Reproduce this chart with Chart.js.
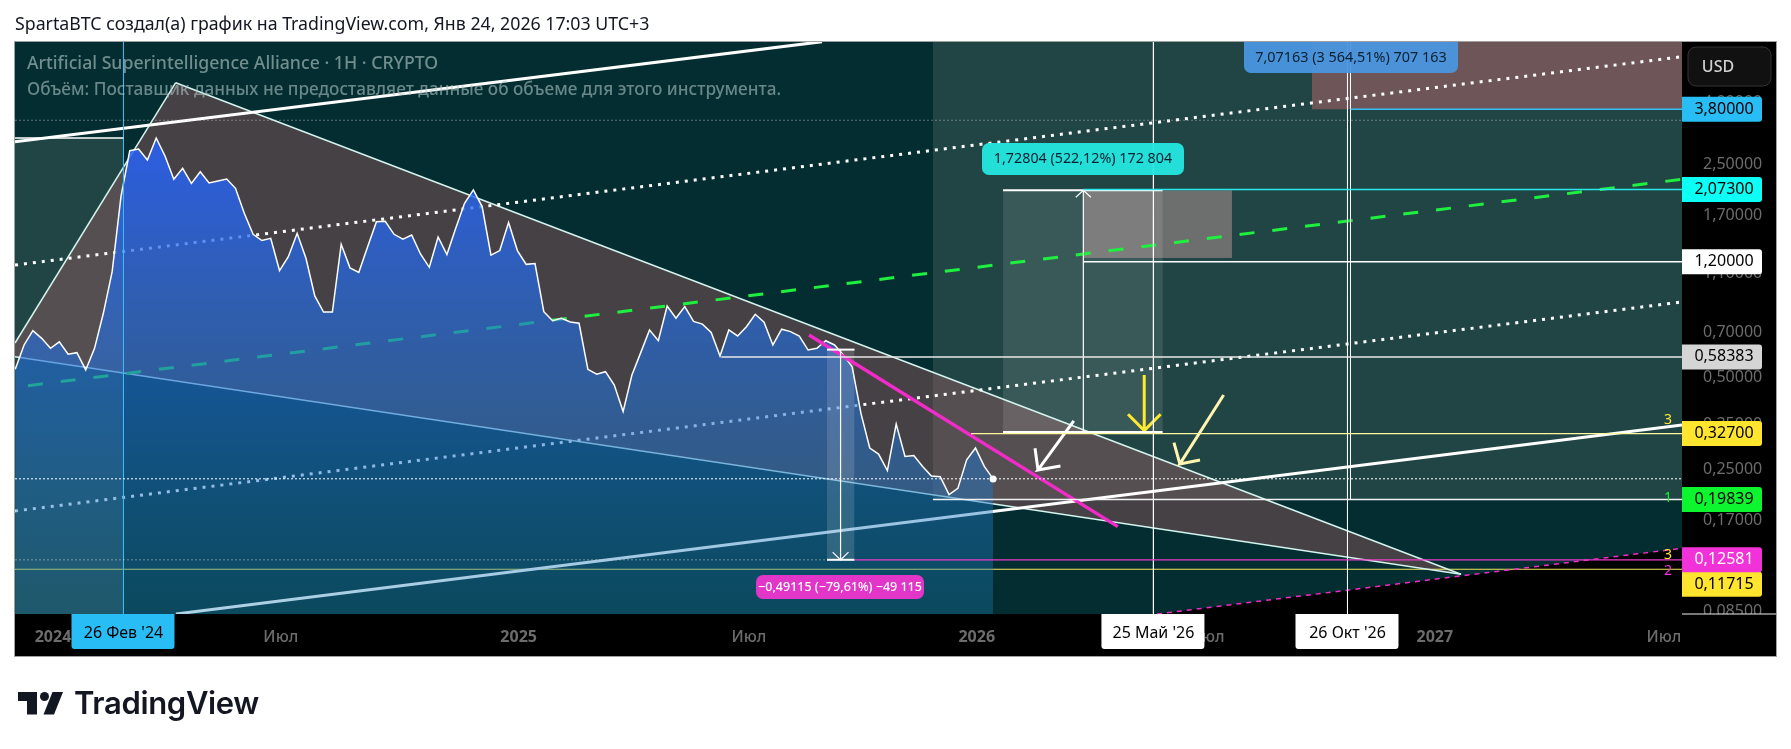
<!DOCTYPE html>
<html lang="ru">
<head>
<meta charset="utf-8">
<title>Artificial Superintelligence Alliance</title>
<script src="https://cdn.jsdelivr.net/npm/chart.js@4"></script>
<style>
  body { margin: 0; background: #fff; width: 1791px; height: 749px; overflow: hidden; position: relative; }
  canvas { display: block; }
  #head { position: absolute; left: 15px; top: 11px; font: 17.76px "Noto Sans", sans-serif; color: #131722; white-space: nowrap; }
  #logo { position: absolute; left: 18px; top: 692px; }
  #logoText { position: absolute; left: 74px; top: 684px; font: 600 31px Inter, sans-serif; letter-spacing: -0.35px; color: #131722; }
</style>
</head>
<body>
<canvas id="chart" width="1791" height="749"></canvas>
<div id="head">SpartaBTC создал(а) график на TradingView.com, Янв 24, 2026 17:03 UTC+3</div>
<svg id="logo" width="45" height="23" viewBox="0 0 45 23" fill="#131722">
  <path d="M0 0h19v22.5H9V9H0z"/><circle cx="26.5" cy="4.5" r="4.5"/><path d="M45 0 36 22.5H25.5L34.5 0z"/>
</svg>
<div id="logoText">TradingView</div>

<script>
// x axis is days since 1 Jan 2024, one price per week
const firstWeek = -30;
const weekStep = 7;
const weeklyPrices = [
  0.5315, 0.639, 0.712, 0.672, 0.623, 0.654, 0.596, 0.603, 0.529, 0.623, 0.812, 1.113, 1.962, 2.778,
  2.814, 2.59, 3.058, 2.669, 2.237, 2.432, 2.17, 2.37, 2.177, 2.21, 2.243, 2.09, 1.73, 1.476, 1.408,
  1.432, 1.122, 1.246, 1.487, 1.231, 0.926, 0.82, 0.82, 1.369, 1.145, 1.107, 1.344, 1.624, 1.629,
  1.476, 1.422, 1.468, 1.272, 1.15, 1.446, 1.266, 1.545, 1.866, 2.065, 1.82, 1.26, 1.305, 1.613,
  1.305, 1.176, 1.183, 0.822, 0.768, 0.782, 0.76, 0.753, 0.5315, 0.512, 0.522, 0.472, 0.386, 0.509,
  0.603, 0.716, 0.66, 0.858, 0.782, 0.854, 0.764, 0.748, 0.702, 0.588, 0.716, 0.684, 0.734, 0.806,
  0.759, 0.639, 0.72, 0.707, 0.684, 0.615, 0.623, 0.66, 0.639, 0.593, 0.542, 0.381, 0.293, 0.28,
  0.247, 0.351, 0.275, 0.277, 0.255, 0.237, 0.236, 0.206, 0.216, 0.268, 0.293, 0.255, 0.232
];

const xMin = -30.2, xMax = 1294.4, yMin = 0.0835, yMax = 6.322;
const xTickDays = [0, 181, 370, 553, 734, 917, 1098, 1280];
const xTickLabels = ['2024', 'Июл', '2025', 'Июл', '2026', 'Июл', '2027', 'Июл'];
const yTicks = [4, 2.5, 1.7, 1.1, 0.7, 0.5, 0.35, 0.25, 0.17, 0.12, 0.085];

// wedge
const wedgeDays = [-30.2, 97.5, 1118.8, -30.2];
const wedgePrices = [0.6487, 4.647, 0.1128, 0.5849];
// channel and its inner lines
const channelTopDays = [-30.2, 611], channelTopPrices = [2.974, 6.337];
const channelLowDays = [97.7, 1294.4], channelLowPrices = [0.0835, 0.3489];
const dottedUpDays = [-30.2, 1294.4], dottedUpPrices = [1.17, 5.657];
const dottedLowDays = [-30.2, 1294.4], dottedLowPrices = [0.182, 0.8846];
const midDashDays = [-19.9, 1294.4], midDashPrices = [0.4696, 2.238];
const pinkTrendDays = [600.7, 846.1], pinkTrendPrices = [0.6892, 0.1617];
const floorDays = [877.2, 1294.4, 1294.4], floorPrices = [0.0835, 0.1373, 0.0835];
// levels
const lastPrice = 0.2322, dottedHigh = 3.497, dottedLow = 0.1258;
const levelRed = 3.8, levelCyan = 2.073, levelWhite = 1.2, levelNeck = 0.58383;
const levelYellow = 0.327, levelGreen = 0.19839, levelPink = 0.12581, levelFloor = 0.11715;
const peakLevel = 3.058;
// dates
const dayFeb24 = 56, dayMay26 = 874.4, dayOct26 = 1028.6, dayOctBar = 1031;
// measures
const upStartDay = 754.9, upEndDay = 881.7, upMidDay = 818.7, upFrom = 0.33097, upTo = 2.05901, upBarb = 1.953;
const downStartDay = 615, downEndDay = 636.9, downMidDay = 625.8, downFrom = 0.61696, downTo = 0.12581, downBarb = 0.1334;
// arrows
const whiteArrowDays = [780.3, 782.7, 800.5, 782.7, 811.1], whiteArrowPrices = [0.2925, 0.2482, 0.2558, 0.2482, 0.3596];
const paleArrowDays = [890.7, 895.4, 911.4, 895.4, 930.2], paleArrowPrices = [0.3052, 0.2598, 0.2677, 0.2598, 0.4378];
const yellowArrowDays = [854.2, 867.1, 880.1, 867.1, 867.1], yellowArrowPrices = [0.3783, 0.3342, 0.3783, 0.3342, 0.5093];

// price tags: level, text, fill, text colour, shift down when tags collide
const yBadges = [
  [levelRed, '3,80000', '#29bdf5', '#000', 0],
  [levelCyan, '2,07300', '#0bfff4', '#000', 0],
  [levelWhite, '1,20000', '#ffffff', '#000', 0],
  [levelNeck, '0,58383', '#d5d5d5', '#000', 0],
  [levelYellow, '0,32700', '#ffe52e', '#000', 0],
  [levelGreen, '0,19839', '#0cf52e', '#000', 0],
  [levelFloor, '0,11715', '#ffe52e', '#000', 15],
  [levelPink, '0,12581', '#f032d8', '#fff', 0]
];
const xBadges = [
  [dayFeb24, "26 Фев '24", '#29bdf5'],
  [dayMay26, "25 Май '26", '#ffffff'],
  [dayOct26, "26 Окт '26", '#ffffff']
];

const FONT = '"Noto Sans", sans-serif';

function zip(days, prices) {
  return days.map((d, i) => ({ x: d, y: prices[i] }));
}
function path(days, prices, color, width, dash, order) {
  return {
    type: 'line', data: zip(days, prices), borderColor: color, borderWidth: width,
    borderDash: dash || [], pointRadius: 0, fill: false, order: order, borderCapStyle: 'butt'
  };
}
function level(from, to, price, color, width, dash, order) {
  return path([from, to], [price, price], color, width, dash, order);
}
function vertical(day, top, bottom, color, width, order) {
  return path([day, day], [top, bottom], color, width, [], order);
}

const UNDER = 10, AREA = 5, OVER = 1;

const datasets = [
  // under the price area
  path(channelTopDays, channelTopPrices, '#ffffff', 3, [], UNDER),
  path(channelLowDays, channelLowPrices, '#ffffff', 3, [], UNDER),
  path(dottedUpDays, dottedUpPrices, '#ffffff', 3, [3, 6], UNDER),
  path(dottedLowDays, dottedLowPrices, '#ffffff', 3, [3, 6], UNDER),
  path(midDashDays, midDashPrices, '#1ff03f', 3, [15, 18], UNDER),
  path(wedgeDays.slice(0, 2), wedgePrices.slice(0, 2), '#d4f4ee', 1.5, [], UNDER),
  path(wedgeDays.slice(1, 3), wedgePrices.slice(1, 3), '#d4f4ee', 1.5, [], UNDER),
  path(wedgeDays.slice(2, 4), wedgePrices.slice(2, 4), '#d4f4ee', 1.5, [], UNDER),
  level(xMin, xMax, levelFloor, '#f5e85a', 1.2, [], UNDER),
  // price
  {
    type: 'line',
    data: weeklyPrices.map((p, i) => ({ x: firstWeek + i * weekStep, y: p })),
    borderColor: '#ffffff', borderWidth: 1.5, fill: 'start', order: AREA,
    pointRadius: c => (c.dataIndex === weeklyPrices.length - 1 ? 3.5 : 0),
    pointBackgroundColor: '#ffffff', pointBorderWidth: 0,
    backgroundColor: c => {
      const a = c.chart.chartArea;
      if (!a) return 'transparent';
      const g = c.chart.ctx.createLinearGradient(0, a.top + 90, 0, a.bottom);
      g.addColorStop(0, 'rgba(41,98,255,0.85)');
      g.addColorStop(1, 'rgba(27,125,180,0.35)');
      return g;
    }
  },
  // drawing tools on top
  {
    type: 'line', data: zip([downStartDay, downEndDay], [downFrom, downFrom]),
    borderWidth: 0, pointRadius: 0, order: 4, backgroundColor: 'rgba(255,255,255,0.14)',
    fill: { target: { value: downTo } }
  },
  level(xMin, xMax, lastPrice, '#ffffff', 1, [2, 2], OVER),
  level(xMin, xMax, dottedHigh, 'rgba(210,210,210,0.42)', 1, [2, 2], OVER),
  level(xMin, downStartDay, dottedLow, 'rgba(210,210,210,0.5)', 1, [2, 2], OVER),
  level(downEndDay, xMax, levelPink, '#e83cc8', 1.2, [], OVER),
  level(xMin, dayFeb24, peakLevel, '#ffffff', 1.5, [], OVER),
  level(531, xMax, levelNeck, '#e8e8e8', 1.5, [], OVER),
  level(729.4, xMax, levelYellow, '#fff6a0', 1.2, [], OVER),
  level(699.2, xMax, levelGreen, '#f2f2f2', 1.5, [], OVER),
  level(upMidDay, xMax, levelWhite, '#ffffff', 1.5, [], OVER),
  level(upMidDay, xMax, levelCyan, '#2be8e8', 1.5, [], OVER),
  level(dayOctBar, xMax, levelRed, '#38bdf8', 1.5, [], OVER),
  vertical(dayFeb24, yMax, yMin, '#38bdf8', 1, OVER),
  vertical(dayMay26, yMax, yMin, '#ffffff', 1, OVER),
  vertical(dayOct26, yMax, yMin, '#ffffff', 1, OVER),
  vertical(dayOctBar, yMax, levelGreen, '#ffffff', 1, OVER),
  // measure up
  level(upStartDay, upEndDay, upFrom, '#ffffff', 2, [], OVER),
  level(upStartDay, upEndDay, upTo, '#ffffff', 2, [], OVER),
  vertical(upMidDay, upFrom, upTo, '#ffffff', 1.2, OVER),
  path([upMidDay - 6, upMidDay, upMidDay + 6], [upBarb, upTo, upBarb], '#ffffff', 1.2, [], OVER),
  // measure down
  level(downStartDay, downEndDay, downFrom, '#ffffff', 2, [], OVER),
  level(downStartDay, downEndDay, downTo, '#ffffff', 2, [], OVER),
  vertical(downMidDay, downFrom, downTo, '#ffffff', 1.2, OVER),
  path([downMidDay - 6.3, downMidDay, downMidDay + 6.3], [downBarb, downTo, downBarb], '#ffffff', 1.2, [], OVER),
  // trend and arrows
  path(pinkTrendDays, pinkTrendPrices, '#f02bc8', 3.5, [], OVER),
  path(floorDays.slice(0, 2), floorPrices.slice(0, 2), '#f02bc8', 1.5, [5, 5], OVER),
  path(whiteArrowDays, whiteArrowPrices, '#ffffff', 3, [], OVER),
  path(paleArrowDays, paleArrowPrices, '#fff5b0', 3, [], OVER),
  path(yellowArrowDays, yellowArrowPrices, '#ffe930', 3, [], OVER)
];

function roundBox(ctx, x, y, w, h, r, fill, alpha) {
  ctx.save();
  ctx.globalAlpha = alpha === undefined ? 1 : alpha;
  ctx.fillStyle = fill;
  ctx.beginPath();
  ctx.roundRect(x, y, w, h, r);
  ctx.fill();
  ctx.restore();
}
function label(ctx, text, x, y, color, font, align) {
  ctx.font = font;
  ctx.fillStyle = color;
  ctx.textAlign = align || 'center';
  ctx.textBaseline = 'middle';
  ctx.fillText(text, x, y);
}

const tvPlugin = {
  id: 'tvPlugin',
  beforeDraw(chart) {
    const { ctx, chartArea: a } = chart;
    ctx.save();
    ctx.fillStyle = '#000';
    ctx.fillRect(a.left, a.top, 1776 - a.left, 656 - a.top);
    ctx.fillStyle = '#032d30';
    ctx.fillRect(a.left, a.top, a.right - a.left, a.bottom - a.top);
    ctx.strokeStyle = '#a0a0a0';
    ctx.lineWidth = 1;
    ctx.strokeRect(a.left - 0.5, a.top - 0.5, 1776 - a.left + 1, 656 - a.top + 1);
    ctx.restore();
  },
  beforeDatasetsDraw(chart) {
    const { ctx, chartArea: a, scales } = chart;
    const X = d => scales.x.getPixelForValue(d);
    const Y = p => scales.y.getPixelForValue(p);
    const box = (d0, p0, d1, p1, fill) => {
      ctx.fillStyle = fill;
      ctx.fillRect(X(d0), Y(p0), X(d1) - X(d0), Y(p1) - Y(p0));
    };
    const poly = (days, prices, fill) => {
      ctx.fillStyle = fill;
      ctx.beginPath();
      days.forEach((d, i) => ctx.lineTo(X(d), Y(prices[i])));
      ctx.closePath();
      ctx.fill();
    };
    ctx.save();
    ctx.beginPath();
    ctx.rect(a.left, a.top, a.right - a.left, a.bottom - a.top);
    ctx.clip();
    box(xMin, peakLevel, dayFeb24, yMin, '#214545');
    box(699.2, yMax, xMax, levelGreen, '#214545');
    poly(wedgeDays, wedgePrices, 'rgba(150,90,95,0.45)');
    poly(floorDays, floorPrices, '#000');
    box(1000.4, yMax, xMax, levelRed, 'rgba(160,97,102,0.6)');
    box(upMidDay, upTo, 936.8, 1.234, 'rgba(129,120,120,0.8)');
    box(upStartDay, upTo, upEndDay, upFrom, 'rgba(255,255,255,0.11)');
    ctx.restore();
  },
  afterDraw(chart) {
    const { ctx, scales, chartArea: a } = chart;
    const X = d => scales.x.getPixelForValue(d);
    const Y = p => scales.y.getPixelForValue(p);
    ctx.save();
    // legend text
    label(ctx, 'Artificial Superintelligence Alliance · 1H · CRYPTO', 27, 64, 'rgba(180,200,200,0.62)', '500 17.7px ' + FONT, 'left');
    label(ctx, 'Объём: Поставщик данных не предоставляет данные об объеме для этого инструмента.', 27, 90, 'rgba(180,200,200,0.58)', '500 17.2px ' + FONT, 'left');
    // measure captions
    roundBox(ctx, 1244, 42, 214, 31, [0, 0, 7, 7], '#4a96e0', 0.95);
    label(ctx, '7,07163 (3 564,51%) 707 163', 1351, 57.5, '#0b2030', '14.4px ' + FONT);
    roundBox(ctx, 982, 143, 202, 32, 7, '#24e8e0', 0.95);
    label(ctx, '1,72804 (522,12%) 172 804', 1083, 159, '#0b2030', '14.3px ' + FONT);
    roundBox(ctx, 756, 575, 168, 24, 7, '#e136c8');
    label(ctx, '−0,49115 (−79,61%) −49 115', 840, 587, '#ffffff', '500 12.5px ' + FONT);
    // axis line and USD button
    ctx.fillStyle = '#000';
    ctx.fillRect(a.right, a.bottom, 94, 42);
    ctx.fillStyle = '#f0f0f0';
    ctx.fillRect(a.right, a.bottom - 0.5, 94, 1);
    ctx.fillStyle = '#111';
    ctx.strokeStyle = '#333';
    ctx.beginPath();
    ctx.roundRect(1688, 47, 83, 39, 8);
    ctx.fill();
    ctx.stroke();
    label(ctx, 'USD', 1718, 67, '#d0d0d0', '500 16px ' + FONT);
    // price tags
    yBadges.forEach(b => {
      const y = Y(b[0]) + b[4];
      roundBox(ctx, a.right, y - 12.5, 80, 25, [0, 3, 3, 0], b[2]);
      label(ctx, b[1], a.right + 42, y, b[3], '16px ' + FONT);
    });
    // time tags
    xBadges.forEach(b => {
      roundBox(ctx, X(b[0]) - 52, a.bottom, 103, 35, [0, 0, 3, 3], b[2]);
      label(ctx, b[1], X(b[0]), a.bottom + 19, '#000', '16px ' + FONT);
    });
    // alert numbers
    label(ctx, '3', 1668, 420, '#ffe52e', '14px ' + FONT);
    label(ctx, '1', 1668, 498, '#0cf52e', '14px ' + FONT);
    label(ctx, '3', 1668, 555, '#ffe52e', '14px ' + FONT);
    label(ctx, '2', 1668, 571, '#f032d8', '14px ' + FONT);
    ctx.restore();
  }
};

new Chart(document.getElementById('chart'), {
  type: 'line',
  data: { datasets: datasets },
  plugins: [tvPlugin],
  options: {
    responsive: false,
    animation: false,
    devicePixelRatio: 1,
    events: [],
    layout: { padding: { left: 15, top: 42, right: 15, bottom: 93 } },
    plugins: { legend: { display: false }, tooltip: { enabled: false } },
    scales: {
      x: {
        type: 'linear', min: xMin, max: xMax,
        grid: { display: false }, border: { display: false },
        afterBuildTicks: s => { s.ticks = xTickDays.map(v => ({ value: v })); },
        afterFit: s => { s.height = 42; },
        ticks: {
          autoSkip: false, maxRotation: 0, padding: 6, color: '#6c6c6c',
          font: c => ({ family: FONT, size: 16, weight: c.tick && /\d/.test(c.tick.label || '') ? '700' : '500' }),
          callback: v => xTickLabels[xTickDays.indexOf(v)]
        }
      },
      y: {
        type: 'logarithmic', position: 'right', min: yMin, max: yMax,
        grid: { display: false }, border: { display: false },
        afterBuildTicks: s => { s.ticks = yTicks.map(v => ({ value: v })); },
        afterFit: s => { s.width = 94; },
        ticks: {
          autoSkip: false, padding: 13, color: '#6c6c6c',
          font: { family: FONT, size: 16 },
          callback: v => v.toFixed(5).replace('.', ',')
        }
      }
    }
  }
});
</script>
</body>
</html>
